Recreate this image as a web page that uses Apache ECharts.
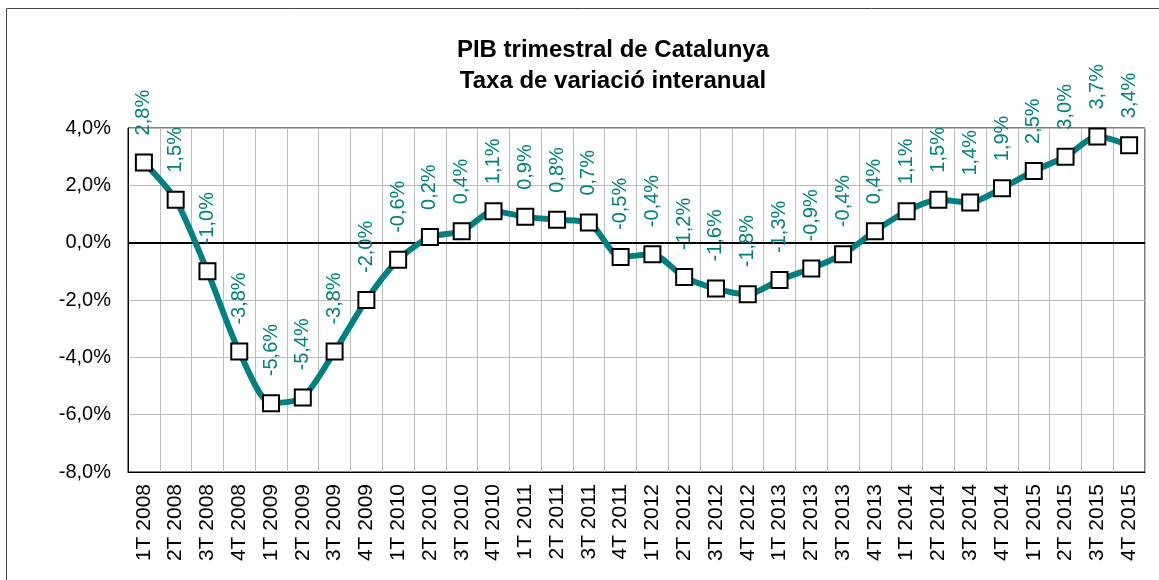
<!DOCTYPE html>
<html>
<head>
<meta charset="utf-8">
<script src="https://cdn.jsdelivr.net/npm/echarts@6/dist/echarts.min.js"></script>
<style>
  html, body { margin: 0; padding: 0; background: #fff; }
  #chart { width: 1159px; height: 580px; }
</style>
</head>
<body>
<div id="chart"></div>
<script>
// trimestres
const quarters = [
  '1T 2008', '2T 2008', '3T 2008', '4T 2008',
  '1T 2009', '2T 2009', '3T 2009', '4T 2009',
  '1T 2010', '2T 2010', '3T 2010', '4T 2010',
  '1T 2011', '2T 2011', '3T 2011', '4T 2011',
  '1T 2012', '2T 2012', '3T 2012', '4T 2012',
  '1T 2013', '2T 2013', '3T 2013', '4T 2013',
  '1T 2014', '2T 2014', '3T 2014', '4T 2014',
  '1T 2015', '2T 2015', '3T 2015', '4T 2015'
];
// taxa de variació interanual (%)
const pibVar = [
  2.8, 1.5, -1.0, -3.8,
  -5.6, -5.4, -3.8, -2.0,
  -0.6, 0.2, 0.4, 1.1,
  0.9, 0.8, 0.7, -0.5,
  -0.4, -1.2, -1.6, -1.8,
  -1.3, -0.9, -0.4, 0.4,
  1.1, 1.5, 1.4, 1.9,
  2.5, 3.0, 3.7, 3.4
];
const yTicks = [-8, -6, -4, -2, 0, 2, 4];

const fmt = v => v.toFixed(1).replace('.', ',') + '%';
const teal = '#008080';

const chart = echarts.init(document.getElementById('chart'));
chart.setOption({
  animation: false,
  textStyle: { fontFamily: 'Liberation Sans, Arial, sans-serif' },
  graphic: [{
    type: 'rect',
    shape: { x: 6.5, y: 8.5, width: 1200, height: 600 },
    style: { fill: 'none', stroke: '#444', lineWidth: 1 },
    silent: true, z: -1
  }],
  title: {
    text: 'PIB trimestral de Catalunya\nTaxa de variació interanual',
    left: 608,
    textAlign: 'center',
    top: 30,
    textStyle: { fontSize: 24, fontWeight: 'bold', color: '#000', lineHeight: 31 }
  },
  grid: {
    left: 128, right: 14, top: 128, bottom: 108,
    show: true, borderColor: '#000', borderWidth: 1
  },
  xAxis: {
    type: 'category',
    data: quarters,
    boundaryGap: true,
    axisLine: { onZero: false, lineStyle: { color: '#000' } },
    axisTick: { show: false },
    splitLine: { show: true, lineStyle: { color: '#bbb', width: 1 } },
    axisLabel: {
      rotate: 90, interval: 0, color: '#000', fontSize: 21, margin: 12
    }
  },
  yAxis: {
    type: 'value',
    min: -8, max: 4, interval: 2,
    axisLine: { show: true, lineStyle: { color: '#000' } },
    axisTick: { show: false },
    splitLine: { lineStyle: { color: '#bbb', width: 1 } },
    axisLabel: {
      color: '#000', fontSize: 20, margin: 17,
      formatter: v => yTicks.includes(v) ? fmt(v) : ''
    }
  },
  series: [{
    type: 'line',
    data: pibVar,
    smooth: 0.25,
    lineStyle: { color: teal, width: 6 },
    symbol: 'rect',
    symbolSize: 16,
    itemStyle: { color: '#fff', borderColor: '#000', borderWidth: 2 },
    label: {
      show: true,
      position: 'top',
      distance: 18,
      rotate: 90,
      align: 'left',
      verticalAlign: 'middle',
      color: teal,
      fontSize: 20,
      formatter: p => fmt(p.value)
    },
    markLine: {
      silent: true,
      symbol: 'none',
      label: { show: false },
      lineStyle: { color: '#000', width: 2, type: 'solid' },
      data: [{ yAxis: 0 }],
      z: 1
    },
    z: 3
  }]
});
</script>
</body>
</html>
